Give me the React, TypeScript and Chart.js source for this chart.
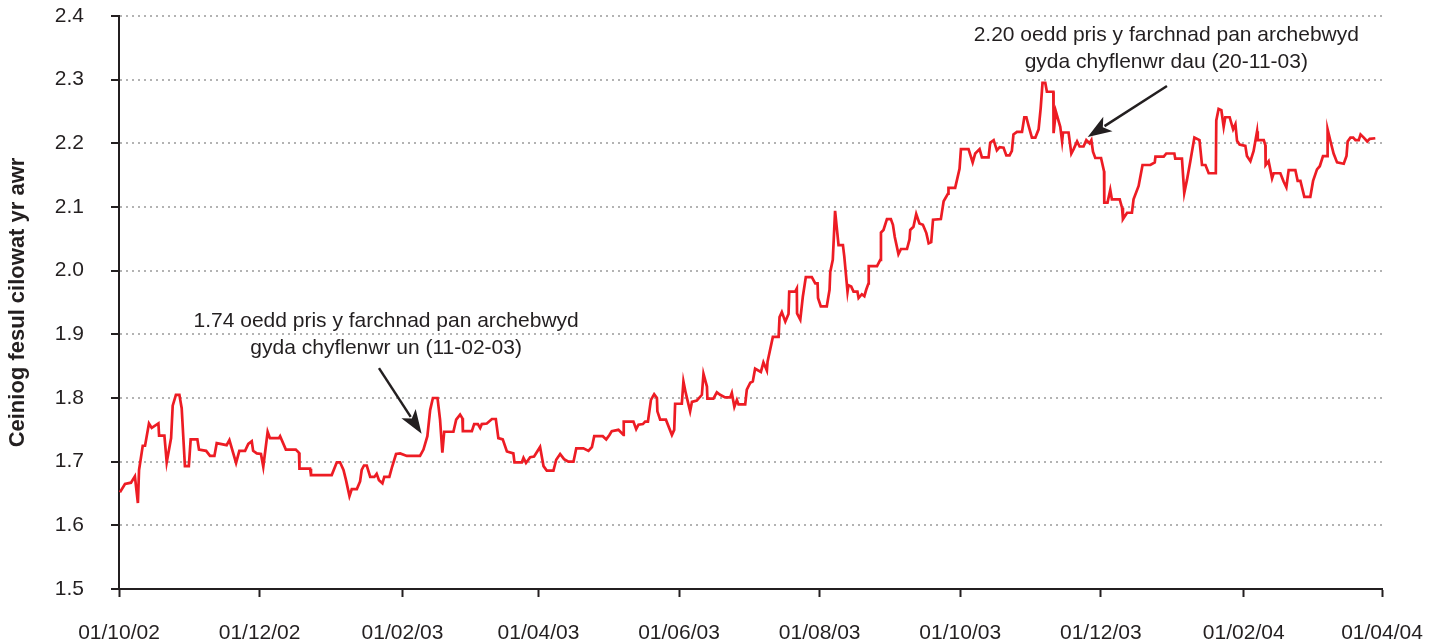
import { useEffect, useRef } from "react";
import { Chart, registerables } from "chart.js";

Chart.register(...registerables);

// ---- data ----
const X_TICK_LABELS = [
  "01/10/02", "01/12/02", "01/02/03", "01/04/03", "01/06/03",
  "01/08/03", "01/10/03", "01/12/03", "01/02/04", "01/04/04",
];
const Y_TICKS = [1.5, 1.6, 1.7, 1.8, 1.9, 2.0, 2.1, 2.2, 2.3, 2.4];
const Y_TITLE = "Ceiniog fesul cilowat yr awr";

// days since 01/10/02
const DAYS = [
  0.4, 2.6, 5.2, 6.9, 8.2, 8.7, 10.3, 11.3, 13.0, 14.2, 17.1, 17.4, 19.7, 20.7, 22.6, 23.3, 24.7, 26.2, 27.2, 28.6,
  30.3, 31.1, 34.0, 34.7, 37.8, 39.5, 41.4, 42.4, 46.7, 47.9, 50.8, 52.2, 54.7, 56.1, 57.6, 58.2, 59.8, 61.6, 62.6, 64.5,
  65.5, 69.4, 69.9, 72.4, 76.7, 78.1, 78.3, 82.9, 83.3, 92.3, 94.5, 95.9, 97.4, 98.5, 100.0, 101.0, 103.2, 104.6, 105.3, 106.3,
  107.5, 109.0, 110.8, 111.8, 112.8, 114.3, 115.1, 117.3, 118.5, 120.2, 122.0, 124.9, 130.6, 132.1, 133.8, 135.0, 136.2, 138.2, 139.3, 140.3,
  141.1, 145.1, 146.3, 148.0, 149.0, 149.2, 153.1, 154.1, 155.7, 156.7, 157.4, 159.6, 161.8, 163.5, 164.6, 166.5, 168.3, 171.1, 171.6, 174.8,
  175.5, 176.6, 178.4, 180.1, 182.7, 184.2, 185.6, 188.5, 189.7, 191.4, 193.1, 195.0, 197.2, 198.4, 201.5, 203.7, 205.2, 206.2, 209.9, 211.4,
  212.8, 213.8, 216.7, 218.9, 219.0, 223.2, 224.4, 225.4, 227.3, 228.3, 229.5, 230.8, 232.2, 233.4, 233.6, 234.8, 237.3, 239.9, 240.9, 241.3,
  244.2, 244.9, 245.9, 247.8, 248.6, 250.7, 252.9, 253.6, 255.1, 255.3, 257.9, 259.4, 260.8, 263.0, 265.2, 265.9, 267.0, 268.1, 268.8, 271.7,
  272.4, 273.9, 275.0, 276.0, 278.5, 279.6, 281.1, 281.4, 283.7, 286.2, 286.6, 287.6, 289.1, 290.5, 290.8, 293.4, 294.1, 294.2, 295.6, 296.7,
  298.0, 300.6, 302.1, 303.1, 303.3, 304.5, 307.1, 308.3, 308.6, 309.7, 310.7, 312.2, 314.1, 314.7, 316.1, 316.5, 317.7, 318.7, 320.4, 320.9,
  322.3, 323.4, 324.2, 325.2, 325.3, 328.9, 330.3, 330.6, 331.7, 333.2, 334.9, 335.8, 336.6, 338.2, 339.3, 341.9, 343.0, 343.3, 344.7, 345.9,
  347.3, 348.8, 350.3, 351.3, 352.4, 353.2, 356.6, 357.8, 359.7, 359.9, 362.8, 364.7, 365.3, 368.6, 370.4, 371.5, 373.4, 374.4, 377.3, 378.0,
  379.5, 380.9, 382.1, 383.8, 385.0, 386.4, 387.4, 388.1, 389.6, 391.8, 392.8, 393.7, 394.7, 396.1, 397.6, 399.0, 399.9, 400.7, 401.9, 402.6,
  405.4, 405.5, 406.5, 408.4, 409.2, 409.6, 412.0, 413.2, 414.2, 415.7, 416.8, 418.5, 419.7, 421.1, 421.9, 422.6, 423.6, 426.1, 427.4, 427.5,
  428.9, 430.1, 430.8, 434.2, 435.2, 435.6, 437.4, 439.5, 440.2, 442.4, 444.1, 447.5, 449.4, 449.7, 453.3, 454.4, 457.9, 458.3, 461.2, 462.2,
  463.4, 464.8, 466.6, 468.8, 469.9, 471.4, 472.8, 475.9, 476.1, 477.1, 478.3, 479.3, 480.0, 481.9, 483.4, 484.4, 485.1, 486.2, 488.7, 489.4,
  490.9, 492.3, 493.8, 494.1, 496.7, 497.4, 497.5, 498.8, 500.3, 501.0, 503.9, 505.3, 506.5, 507.5, 510.4, 511.4, 512.6, 514.3, 516.9, 518.1,
  519.8, 521.0, 522.4, 524.2, 524.4, 525.6, 527.0, 528.5, 531.4, 532.6, 533.1, 534.3, 535.5, 536.5, 537.9, 538.7, 540.1, 541.6, 542.7, 545.1,
];

const PRICES = [
  1.652, 1.665, 1.667, 1.677, 1.635, 1.687, 1.725, 1.725, 1.760, 1.753, 1.760, 1.741, 1.741, 1.699, 1.737, 1.788, 1.805, 1.805, 1.784, 1.693,
  1.693, 1.735, 1.735, 1.719, 1.717, 1.709, 1.709, 1.729, 1.726, 1.734, 1.698, 1.717, 1.717, 1.728, 1.732, 1.717, 1.713, 1.712, 1.692, 1.747,
  1.737, 1.737, 1.740, 1.719, 1.719, 1.714, 1.689, 1.689, 1.679, 1.679, 1.699, 1.699, 1.687, 1.671, 1.646, 1.657, 1.657, 1.669, 1.687, 1.694,
  1.694, 1.676, 1.676, 1.681, 1.671, 1.666, 1.676, 1.676, 1.692, 1.712, 1.713, 1.709, 1.709, 1.719, 1.740, 1.781, 1.800, 1.800, 1.766, 1.714,
  1.747, 1.747, 1.766, 1.774, 1.768, 1.748, 1.748, 1.759, 1.759, 1.753, 1.759, 1.760, 1.767, 1.767, 1.737, 1.735, 1.716, 1.713, 1.699, 1.699,
  1.706, 1.698, 1.707, 1.708, 1.723, 1.693, 1.686, 1.686, 1.703, 1.712, 1.704, 1.700, 1.700, 1.721, 1.721, 1.717, 1.723, 1.740, 1.740, 1.735,
  1.742, 1.748, 1.750, 1.742, 1.763, 1.763, 1.751, 1.758, 1.759, 1.763, 1.763, 1.797, 1.806, 1.800, 1.779, 1.766, 1.766, 1.742, 1.750, 1.791,
  1.791, 1.826, 1.808, 1.779, 1.794, 1.796, 1.805, 1.838, 1.818, 1.799, 1.799, 1.809, 1.805, 1.801, 1.801, 1.808, 1.786, 1.797, 1.790, 1.790,
  1.813, 1.824, 1.826, 1.846, 1.841, 1.856, 1.843, 1.857, 1.896, 1.896, 1.927, 1.935, 1.920, 1.932, 1.967, 1.967, 1.972, 1.933, 1.923, 1.959,
  1.990, 1.990, 1.980, 1.980, 1.957, 1.944, 1.944, 1.970, 1.998, 2.017, 2.094, 2.040, 2.040, 2.022, 1.967, 1.977, 1.975, 1.967, 1.967, 1.957,
  1.963, 1.960, 1.970, 1.980, 2.007, 2.007, 2.017, 2.060, 2.064, 2.081, 2.081, 2.072, 2.053, 2.026, 2.034, 2.034, 2.049, 2.064, 2.069, 2.089,
  2.074, 2.072, 2.059, 2.043, 2.045, 2.080, 2.081, 2.109, 2.121, 2.130, 2.130, 2.160, 2.191, 2.191, 2.170, 2.184, 2.191, 2.178, 2.178, 2.201,
  2.205, 2.189, 2.194, 2.193, 2.181, 2.181, 2.188, 2.214, 2.218, 2.218, 2.241, 2.241, 2.227, 2.209, 2.209, 2.222, 2.255, 2.295, 2.295, 2.281,
  2.281, 2.216, 2.250, 2.226, 2.203, 2.217, 2.217, 2.184, 2.191, 2.203, 2.195, 2.195, 2.205, 2.200, 2.205, 2.187, 2.177, 2.177, 2.156, 2.107,
  2.107, 2.127, 2.112, 2.112, 2.099, 2.081, 2.091, 2.091, 2.112, 2.133, 2.166, 2.166, 2.170, 2.179, 2.179, 2.184, 2.184, 2.176, 2.176, 2.122,
  2.143, 2.171, 2.209, 2.205, 2.166, 2.166, 2.153, 2.153, 2.236, 2.254, 2.252, 2.226, 2.241, 2.241, 2.222, 2.230, 2.204, 2.198, 2.196, 2.180,
  2.172, 2.188, 2.219, 2.205, 2.205, 2.197, 2.166, 2.172, 2.145, 2.153, 2.153, 2.140, 2.131, 2.158, 2.158, 2.141, 2.141, 2.116, 2.116, 2.141,
  2.159, 2.164, 2.180, 2.180, 2.222, 2.204, 2.184, 2.170, 2.168, 2.180, 2.203, 2.209, 2.209, 2.205, 2.205, 2.214, 2.209, 2.203, 2.207, 2.208,
];

const NOTE_LINES_1 = ["1.74 oedd pris y farchnad pan archebwyd", "gyda chyflenwr un (11-02-03)"];
const NOTE_LINES_2 = ["2.20 oedd pris y farchnad pan archebwyd", "gyda chyflenwr dau (20-11-03)"];

// annotation placement (data coords: day, price)
const NOTES = [
  { lines: NOTE_LINES_1, textAt: [115.9, 1.921], tail: [112.8, 1.847], tip: [131.3, 1.744] },
  { lines: NOTE_LINES_2, textAt: [454.4, 2.370], tail: [454.7, 2.290], tip: [420.3, 2.210] },
];

// ---- style ----
const FONT = '"Liberation Sans", Arial, Helvetica, sans-serif';
const TEXT = "#231f20";
const AXIS = "#231f20";
const GRID = "#b3b3b3";
const LINE = "#ed1c24";
const NOTE_LINE_H = 27;

const START = Date.UTC(2002, 9, 1);
const dayOf = (label: string) => {
  const [d, m, y] = label.split("/").map(Number);
  return (Date.UTC(2000 + y, m - 1, d) - START) / 86400000;
};
const X_TICK_DAYS = X_TICK_LABELS.map(dayOf);

const notesPlugin = {
  id: "notes",
  afterDatasetsDraw(chart: any) {
    const { ctx, scales } = chart;
    const xs = scales.x;
    const ys = scales.y;
    ctx.save();
    ctx.fillStyle = TEXT;
    ctx.strokeStyle = TEXT;
    ctx.font = `21px ${FONT}`;
    ctx.textAlign = "center";
    ctx.textBaseline = "middle";
    for (const n of NOTES) {
      const cx = xs.getPixelForValue(n.textAt[0]);
      const cy = ys.getPixelForValue(n.textAt[1]);
      n.lines.forEach((l, i) => ctx.fillText(l, cx, cy + i * NOTE_LINE_H));
      const x1 = xs.getPixelForValue(n.tail[0]);
      const y1 = ys.getPixelForValue(n.tail[1]);
      const x2 = xs.getPixelForValue(n.tip[0]);
      const y2 = ys.getPixelForValue(n.tip[1]);
      const ang = Math.atan2(y2 - y1, x2 - x1);
      const headLen = 24;
      const headW = 8.5;
      const bx = x2 - headLen * Math.cos(ang);
      const by = y2 - headLen * Math.sin(ang);
      ctx.lineWidth = 2.5;
      ctx.beginPath();
      ctx.moveTo(x1, y1);
      ctx.lineTo(bx + 4 * Math.cos(ang), by + 4 * Math.sin(ang));
      ctx.stroke();
      ctx.beginPath();
      ctx.moveTo(x2, y2);
      ctx.lineTo(bx + headW * Math.sin(ang), by - headW * Math.cos(ang));
      ctx.lineTo(bx + 6 * Math.cos(ang), by + 6 * Math.sin(ang));
      ctx.lineTo(bx - headW * Math.sin(ang), by + headW * Math.cos(ang));
      ctx.closePath();
      ctx.fill();
    }
    ctx.restore();
  },
};

export default function App() {
  const ref = useRef<HTMLCanvasElement | null>(null);

  useEffect(() => {
    document.body.style.margin = "0";
    const canvas = ref.current;
    if (!canvas) return;
    const chart = new Chart(canvas, {
      type: "line",
      data: {
        datasets: [
          {
            data: DAYS.map((d, i) => ({ x: d, y: PRICES[i] })),
            borderColor: LINE,
            borderWidth: 2.7,
            pointRadius: 0,
            tension: 0,
            fill: false,
          },
        ],
      },
      options: {
        responsive: false,
        animation: false,
        devicePixelRatio: 1,
        layout: { padding: { top: 16, right: 59, left: 0, bottom: 0 } },
        plugins: { legend: { display: false }, tooltip: { enabled: false } },
        scales: {
          x: {
            type: "linear",
            min: X_TICK_DAYS[0],
            max: X_TICK_DAYS[X_TICK_DAYS.length - 1],
            afterBuildTicks: (s: any) => {
              s.ticks = X_TICK_DAYS.map((v) => ({ value: v }));
            },
            afterFit: (s: any) => {
              s.height = 53;
              s.paddingLeft = 0;
              s.paddingRight = 0;
            },
            ticks: {
              autoSkip: false,
              maxRotation: 0,
              padding: 24,
              color: TEXT,
              font: { family: FONT, size: 21 },
              callback: (v: any) => {
                const i = X_TICK_DAYS.indexOf(Number(v));
                return i >= 0 ? X_TICK_LABELS[i] : "";
              },
            },
            grid: {
              drawOnChartArea: false,
              drawTicks: true,
              tickLength: 8,
              tickColor: AXIS,
              tickWidth: 2,
            },
            border: { display: true, color: AXIS, width: 2 },
          },
          y: {
            min: Y_TICKS[0],
            max: Y_TICKS[Y_TICKS.length - 1],
            afterBuildTicks: (s: any) => {
              s.ticks = Y_TICKS.map((v) => ({ value: v }));
            },
            afterFit: (s: any) => {
              s.width = 119;
              s.paddingTop = 0;
              s.paddingBottom = 0;
            },
            ticks: {
              padding: 27,
              color: TEXT,
              font: { family: FONT, size: 21 },
              callback: (v: any) => Number(v).toFixed(1),
            },
            grid: {
              color: GRID,
              lineWidth: 2,
              drawTicks: true,
              tickLength: 8,
              tickColor: AXIS,
              tickWidth: 2,
            },
            border: { display: true, color: AXIS, width: 2, dash: [2, 4] },
            title: {
              display: true,
              text: Y_TITLE,
              color: TEXT,
              font: { family: FONT, size: 22, weight: "bold" },
              padding: { top: 5, bottom: 0 },
            },
          },
        },
      },
      plugins: [notesPlugin],
    } as any);
    return () => chart.destroy();
  }, []);

  return (
    <div style={{ width: 1441, height: 642 }}>
      <canvas ref={ref} width={1441} height={642} style={{ display: "block" }} />
    </div>
  );
}
